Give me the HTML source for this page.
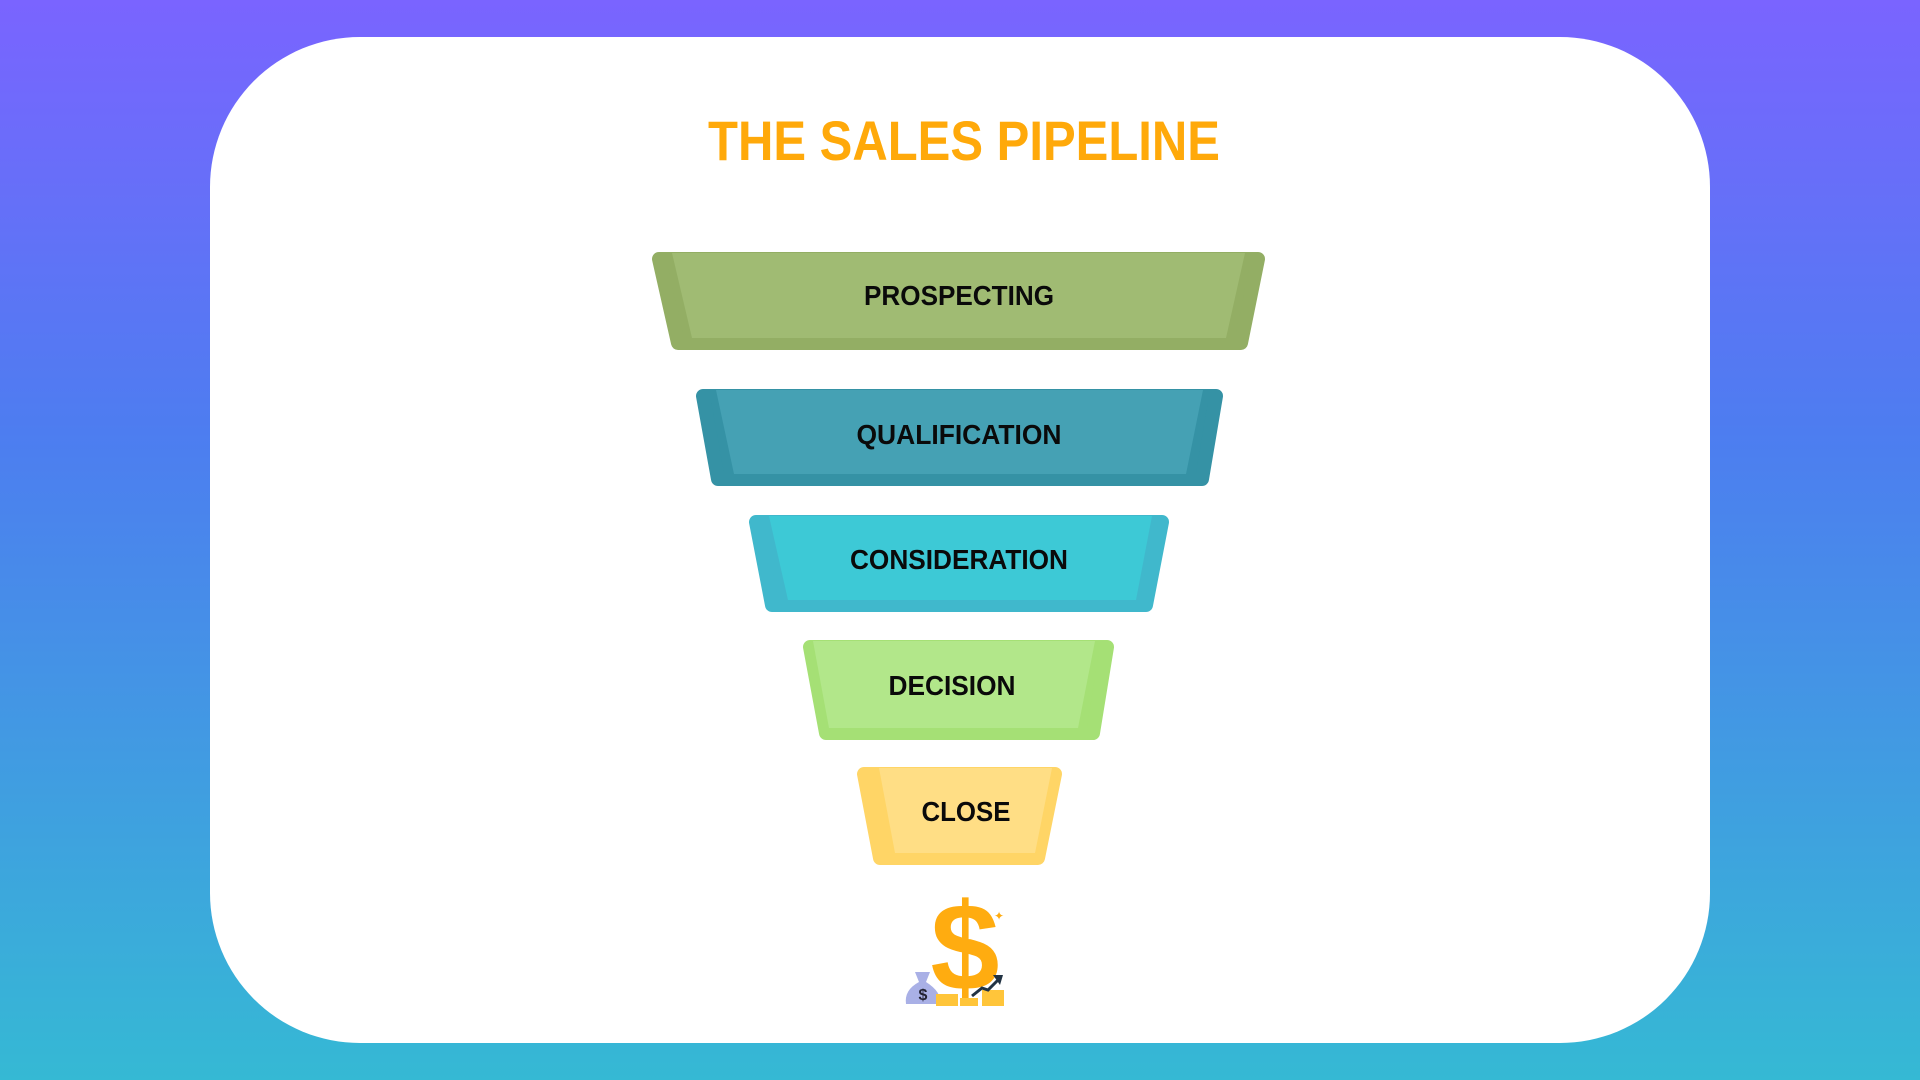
<!DOCTYPE html>
<html><head><meta charset="utf-8"><style>
html,body{margin:0;padding:0;width:1920px;height:1080px;overflow:hidden}
body{background:linear-gradient(180deg,#7a64ff 0%,#4d7df0 40%,#35b9d4 100%)}
</style></head><body>
<svg width="1920" height="1080" viewBox="0 0 1920 1080" style="position:absolute;left:0;top:0">
<rect x="210" y="37" width="1500" height="1006" rx="150" ry="150" fill="#fff"/>
<text x="964" y="160" text-anchor="middle" font-family="Liberation Sans, sans-serif" font-weight="bold" font-size="56" fill="#ffa90a" textLength="512" lengthAdjust="spacingAndGlyphs">THE SALES PIPELINE</text>
<g stroke-linejoin="round">
<polygon points="659,259 1258,259 1241,343 678,343" fill="#93ae64" stroke="#93ae64" stroke-width="14"/>
<polygon points="672,253 1245,253 1226,338 692,338" fill="#a0bb73"/>
<polygon points="703,396 1216,396 1202,479 718,479" fill="#3592a5" stroke="#3592a5" stroke-width="14"/>
<polygon points="716,390 1203,390 1186,474 734,474" fill="#45a1b4"/>
<polygon points="756,522 1162,522 1146,605 772,605" fill="#40b8cc" stroke="#40b8cc" stroke-width="14"/>
<polygon points="769,516 1152,516 1136,600 788,600" fill="#3dc9d6"/>
<polygon points="810,647 1107,647 1093,733 826,733" fill="#a5e075" stroke="#a5e075" stroke-width="14"/>
<polygon points="813,641 1095,641 1078,728 829,728" fill="#b2e78a"/>
<polygon points="864,774 1055,774 1038,858 880,858" fill="#ffd566" stroke="#ffd566" stroke-width="14"/>
<polygon points="879,768 1052,768 1035,853 895,853" fill="#ffde85"/>
</g>
<g font-family="Liberation Sans, sans-serif" font-weight="bold" font-size="28" fill="#0a0a0a" text-anchor="middle">
<text x="959" y="305" textLength="190" lengthAdjust="spacingAndGlyphs">PROSPECTING</text>
<text x="959" y="444" textLength="205" lengthAdjust="spacingAndGlyphs">QUALIFICATION</text>
<text x="959" y="569" textLength="218" lengthAdjust="spacingAndGlyphs">CONSIDERATION</text>
<text x="952" y="695" textLength="127" lengthAdjust="spacingAndGlyphs">DECISION</text>
<text x="966" y="821" textLength="89" lengthAdjust="spacingAndGlyphs">CLOSE</text>
</g>
<text x="965" y="990" text-anchor="middle" font-family="Liberation Sans, sans-serif" font-weight="bold" font-size="124" fill="#ffac10">$</text>
<path d="M915,972 L930,972 L926,982 Q942,992 940,1004 L906,1004 Q904,990 919,982 Z" fill="#a9b0e6"/>
<text x="923" y="1000" text-anchor="middle" font-family="Liberation Sans, sans-serif" font-weight="bold" font-size="16" fill="#223">$</text>
<rect x="936" y="994" width="22" height="12" fill="#ffc53a"/>
<rect x="960" y="998" width="18" height="8" fill="#ffc53a"/>
<rect x="982" y="990" width="22" height="16" fill="#ffc53a"/>
<polyline points="972,996 982,988 988,990 998,980" fill="none" stroke="#234" stroke-width="3"/>
<path d="M993,975 L1003,975 L1000,985 Z" fill="#234"/>
<text x="994" y="920" font-size="12" fill="#ffac10" font-family="Liberation Sans, sans-serif">✦</text>
</svg>
</body></html>
